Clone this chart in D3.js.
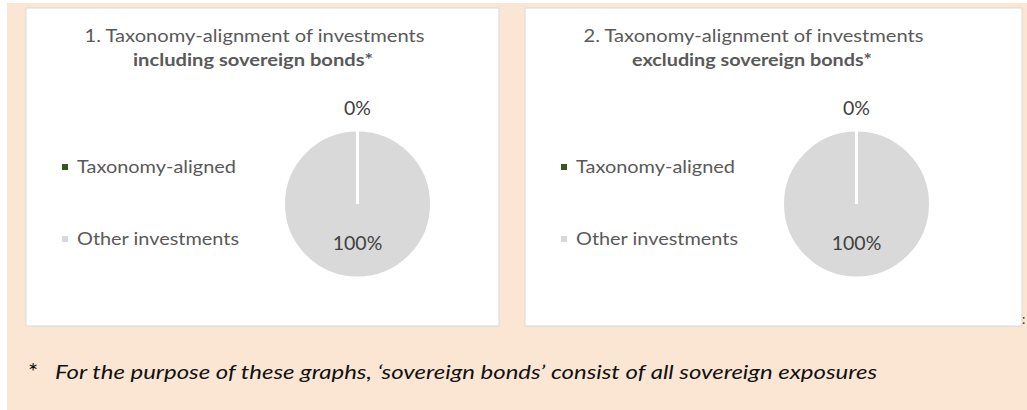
<!DOCTYPE html>
<html>
<head>
<meta charset="utf-8">
<script src="https://cdn.jsdelivr.net/npm/d3@7"></script>
<style>
  html, body { margin: 0; padding: 0; background: #fff; }
  svg { display: block; }
</style>
</head>
<body>
<div id="chart"></div>
<script>
// data
const categories = ["Taxonomy-aligned", "Other investments"];
const includingValues = [0, 100];
const excludingValues = [0, 100];
const titleLines = ["1. Taxonomy-alignment of investments", "2. Taxonomy-alignment of investments"];
const titleBold = ["including sovereign bonds*", "excluding sovereign bonds*"];
const footnote = "For the purpose of these graphs, \u2018sovereign bonds\u2019 consist of  all sovereign exposures";

const width = 1027, height = 410;
const colors = d3.scaleOrdinal().domain(categories).range(["#375623", "#d9d9d9"]);
const textColor = "#595959";
const font = "Lato, 'Open Sans', sans-serif";

const svg = d3.select("#chart").append("svg")
  .attr("width", width)
  .attr("height", height);

// peach background
svg.append("rect")
  .attr("x", 7).attr("y", 3)
  .attr("width", width - 7).attr("height", height - 3)
  .attr("fill", "#fbe6d4");

const panels = [
  { x: 26, w: 473, values: includingValues, title: titleLines[0], bold: titleBold[0] },
  { x: 525, w: 497, values: excludingValues, title: titleLines[1], bold: titleBold[1] }
];

const radius = 74;
const pie = d3.pie().sort(null).value(d => d.value);
const arc = d3.arc().innerRadius(0).outerRadius(radius);

panels.forEach(p => {
  const g = svg.append("g").attr("transform", `translate(${p.x},8)`);

  g.append("rect")
    .attr("width", p.w).attr("height", 318)
    .attr("fill", "#fff")
    .attr("stroke", "#d9d9d9")
    .attr("stroke-width", 1);

  // title
  g.append("text")
    .attr("x", 228.5).attr("y", 34)
    .attr("text-anchor", "middle")
    .attr("font-family", font).attr("font-size", 17)
    .attr("fill", textColor)
    .attr("textLength", 340).attr("lengthAdjust", "spacingAndGlyphs")
    .text(p.title);
  g.append("text")
    .attr("x", 227).attr("y", 58)
    .attr("text-anchor", "middle")
    .attr("font-family", font).attr("font-size", 17).attr("font-weight", "bold")
    .attr("fill", textColor)
    .attr("textLength", 240).attr("lengthAdjust", "spacingAndGlyphs")
    .text(p.bold);

  // pie
  const data = categories.map((c, i) => ({ label: c, value: p.values[i] }));
  const arcs = pie(data);
  const pg = g.append("g").attr("transform", `translate(331.5,196)`);

  pg.selectAll("path.slice")
    .data(arcs.slice().reverse())
    .enter().append("path")
    .attr("class", "slice")
    .attr("d", arc)
    .attr("fill", d => colors(d.data.label))
    .attr("stroke", "#fff")
    .attr("stroke-width", 3);

  // data labels: tiny slices go outside, others inside
  const tiny = d => (d.endAngle - d.startAngle) < 0.01;
  pg.selectAll("text.lbl")
    .data(arcs)
    .enter().append("text")
    .attr("class", "lbl")
    .attr("transform", d => {
      const a = (d.startAngle + d.endAngle) / 2;
      const r = tiny(d) ? radius + 15 : 39;
      return `translate(${Math.sin(a) * r},${-Math.cos(a) * r})`;
    })
    .attr("text-anchor", "middle")
    .attr("dy", d => tiny(d) ? "0" : "0.35em")
    .attr("font-family", font).attr("font-size", 19.5)
    .attr("fill", "#404040")
    .text(d => d.data.value + "%");

  // legend
  const lg = g.selectAll("g.legend")
    .data(categories)
    .enter().append("g")
    .attr("class", "legend")
    .attr("transform", (d, i) => `translate(36,${159 + i * 72})`);
  lg.append("rect")
    .attr("x", 0).attr("y", -3)
    .attr("width", 6).attr("height", 6)
    .attr("fill", d => colors(d));
  lg.append("text")
    .attr("x", 15).attr("y", 0)
    .attr("dy", "0.35em")
    .attr("font-family", font).attr("font-size", 17)
    .attr("fill", textColor)
    .attr("textLength", (d, i) => i === 0 ? 159 : 162)
    .attr("lengthAdjust", "spacingAndGlyphs")
    .text(d => d);
});

// stray colon at panel edge
svg.append("text")
  .attr("x", 1022).attr("y", 324)
  .attr("font-family", font).attr("font-size", 13)
  .attr("fill", "#333")
  .text(":");

// footnote
svg.append("text")
  .attr("x", 28).attr("y", 380)
  .attr("font-family", font).attr("font-size", 24)
  .attr("fill", "#111")
  .text("*");
svg.append("text")
  .attr("x", 55).attr("y", 379)
  .attr("font-family", font).attr("font-size", 19.5).attr("font-style", "italic")
  .attr("fill", "#111")
  .attr("textLength", 822).attr("lengthAdjust", "spacingAndGlyphs")
  .text(footnote);
</script>
</body>
</html>
